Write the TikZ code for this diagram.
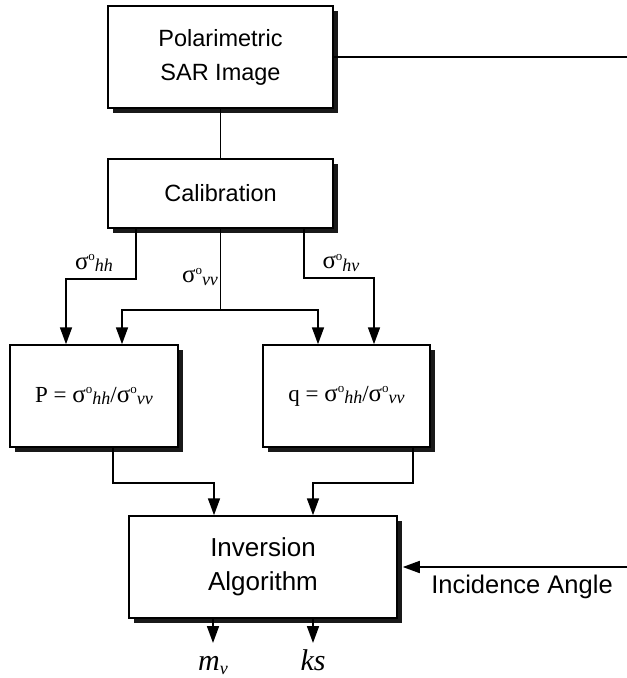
\documentclass[tikz,border=0pt]{standalone}
\usepackage{fontspec}
\setmainfont{Liberation Serif}
\newfontfamily\arialf{Liberation Sans}
\usetikzlibrary{arrows.meta,shadows}
\newcommand\sgm[1]{{\fontsize{25}{25}\selectfont σ}\raisebox{8.5pt}{\fontsize{13}{13}\selectfont o}\raisebox{-2.5pt}{\fontsize{18}{18}\selectfont\itshape #1}}
\begin{document}
\begin{tikzpicture}[x=1pt,y=-1pt,
  box/.style={draw, line width=1.5pt, fill=white, align=center, inner sep=0pt,
    font=\arialf\fontsize{23.5}{34}\selectfont,
    drop shadow={shadow xshift=4.5pt, shadow yshift=-5pt, fill=black!90, opacity=1}},
  bigbox/.style={box, font=\arialf\fontsize{26}{34}\selectfont},
  eqbox/.style={box, font=\fontsize{23}{26}\selectfont},
  lbl/.style={inner sep=0pt},
  outl/.style={font=\fontsize{30}{32}\selectfont\itshape, inner sep=0pt, anchor=base},
  ln/.style={line width=1.7pt},
  arr/.style={ln, -{Triangle[length=17pt,width=12pt]}}]
\useasboundingbox (0,0) rectangle (627,678);

\node[box, minimum width=225pt, minimum height=102pt] (pol) at (220.5,57) {Polarimetric\\SAR Image};
\node[box, minimum width=225pt, minimum height=69pt] (cal) at (220.5,193.5) {Calibration};
\node[eqbox, minimum width=168pt, minimum height=102pt] (P) at (94,396) {P = \sgm{hh}/\sgm{vv}};
\node[eqbox, minimum width=167pt, minimum height=102pt] (q) at (346.5,396) {q = \sgm{hh}/\sgm{vv}};
\node[bigbox, minimum width=268pt, minimum height=102pt] (inv) at (263,567) {Inversion\\Algorithm};

\coordinate (tr) at (627,57);
\coordinate (br) at (627,567);
\coordinate (xhh) at (136,0);
\coordinate (xhv) at (304,0);
\coordinate (xPl) at (66,0);
\coordinate (xPr) at (122,0);
\coordinate (xql) at (318,0);
\coordinate (xqr) at (374,0);
\coordinate (vvj) at (220.5,310);
\coordinate (xPo) at (113,0);
\coordinate (xqo) at (413,0);
\coordinate (xi1) at (214,0);
\coordinate (xi2) at (313,0);
\coordinate (mvp) at (213,643);
\coordinate (ksp) at (313,643);

\draw[ln] (pol.east) -- (tr);
\draw[ln] (pol.south) -- (cal.north);
\draw[arr] (cal.south -| xhh) -- ++(0,50) -| (P.north -| xPl);
\draw[ln] (cal.south) -- (vvj);
\draw[arr] (vvj) -| (P.north -| xPr);
\draw[arr] (vvj) -| (q.north -| xql);
\draw[arr] (cal.south -| xhv) -- ++(0,49) -| (q.north -| xqr);
\draw[arr] (P.south -| xPo) -- ++(0,35) -| (inv.north -| xi1);
\draw[arr] (q.south -| xqo) -- ++(0,35) -| (inv.north -| xi2);
\draw[arr] (br) -- ([xshift=5pt]inv.east);
\draw[arr] (inv.south -| mvp) -- (mvp);
\draw[arr] (inv.south -| ksp) -- (ksp);

\node[lbl] (lhh) at (94,263) {\sgm{hh}};
\node[lbl] (lvv) at (200,277) {\sgm{vv}};
\node[lbl] (lhv) at (341,263) {\sgm{hv}};
\node[font=\arialf\fontsize{25.5}{30}\selectfont, inner sep=0pt] (inc) at (522,587) {Incidence Angle};
\node[outl] (mv) at (213,670) {m\raisebox{-0.3ex}{\fontsize{18}{18}\selectfont v}};
\node[outl] (ks) at (313,670) {ks};
\end{tikzpicture}
\end{document}
